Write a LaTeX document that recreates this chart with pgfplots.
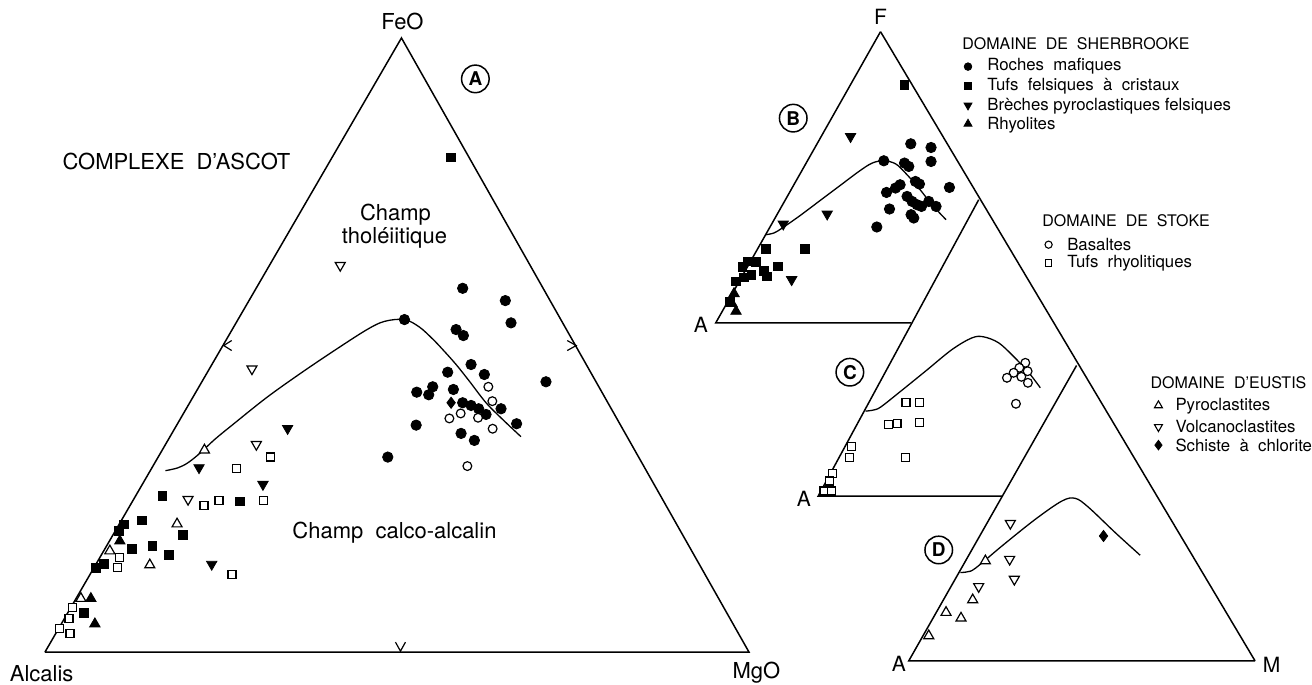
\documentclass[border=0pt]{standalone}
\usepackage{pgfplots}
\pgfplotsset{compat=1.18}
\usepackage{fontspec}
\setmainfont{TeX Gyre Heros}
\tikzset{
  lab/.style={font=\fontsize{11}{13}\selectfont, inner sep=0pt},
  vlab/.style={font=\fontsize{10.5}{12}\selectfont, inner sep=0pt},
  leg/.style={font=\fontsize{8}{9.6}\selectfont, inner sep=0pt, anchor=west},
  legi/.style={font=\fontsize{8.4}{10}\selectfont, inner sep=0pt, anchor=west},
  circ/.style={draw, circle, line width=0.75pt, minimum size=13.8pt, inner sep=0pt, font=\fontsize{9.5}{10}\selectfont\bfseries},
}
\begin{document}
\begin{tikzpicture}
\begin{axis}[
  x=0.5pt, y=0.5pt, y dir=reverse,
  xmin=0, xmax=1312, ymin=0, ymax=685,
  hide axis, clip=false,
]
\path (axis cs:0,0) rectangle (axis cs:1312,685);

% ---------- main triangle (A) ----------
\addplot[black, line width=0.75pt] coordinates {(45,653) (402,38) (750,653) (45,653)};
\addplot[black, line width=0.6pt] coordinates {(232,341) (224,346) (232,351)};
\addplot[black, line width=0.6pt] coordinates {(568,341) (577,346) (568,351)};
\addplot[black, line width=0.6pt] coordinates {(396,643) (401,652) (406,643)};
\addplot[black, line width=0.65pt, smooth, tension=0.55] coordinates {
 (165.7,471.3) (178,468.5) (188,463.5) (200,454) (215,440) (233.3,425) (266.7,398.3)
 (300,374.5) (333.3,352) (366.7,330.5) (385,321.8) (405,320) (420,327.5) (433.3,339.5)
 (443.3,350) (456.7,365) (470,381.7) (486.7,403.3) (503.3,420) (521.7,437.3)};

% ---------- right composite (B, C, D) ----------
\addplot[black, line width=0.75pt] coordinates {(881.7,31.7) (1256.7,661.7)};
\addplot[black, line width=0.75pt] coordinates {(912,323.3) (716.7,323.3) (881.7,31.7)};
\addplot[black, line width=0.75pt] coordinates {(1003.5,496.7) (819.3,496.7) (980,200)};
\addplot[black, line width=0.75pt] coordinates {(1256.7,661.7) (910,661.7) (1078,366)};
% B curve
\addplot[black, line width=0.65pt, smooth, tension=0.55] coordinates {
 (766.7,235) (775,233.3) (783.3,228.3) (800,216.7) (820,201.7) (840,186.7) (860,171.7)
 (873.3,163.3) (885,161) (896.7,164) (906.7,173.3) (920,188.3) (933.3,205) (947.3,220)};
% C curve
\addplot[black, line width=0.65pt, smooth, tension=0.55] coordinates {
 (866.7,411.7) (875,410.5) (882,407.5) (900,393.3) (926.7,371.7) (953.3,350) (973.3,338.3)
 (985,337.3) (1000,343.3) (1015,357) (1030,373) (1041.7,388.3)};
% D curve
\addplot[black, line width=0.65pt, smooth, tension=0.55] coordinates {
 (961.7,573.3) (969,572.5) (976.7,569) (1003.3,546.7) (1036.7,520) (1063.3,501.7)
 (1076.7,499) (1090,508) (1116.7,533.3) (1141.7,556)};

% ---------- data: Domaine de Sherbrooke ----------
% Roches mafiques (filled circles)
\addplot[only marks, mark=*, mark size=2.6pt, black] table {
x y
405 320
463.3 288.7
506 301
511.7 323.3
456.7 330
464 336
471.7 365
448.3 372.7
485 375
546.7 382.3
433.3 387.3
417.3 392.7
429.3 395.3
454 390
463.3 403.3
471.7 406
479.3 409.3
486.7 415
501.7 409.3
416.7 425.7
517.3 424.3
461.7 434
475 441
388.3 457.7
912 144
932.3 147.7
932.3 161.7
885 161
905.7 163.3
910 166.7
916.7 181.7
920.7 184.3
901.3 185
896.7 188.3
887.7 192.7
950.7 187.7
908.3 196.7
913.3 201.7
918.3 205
922.7 206.7
930 201.7
937.3 206.7
890.7 209.3
912.3 215
915 218.3
878 227.3
};
% Tufs felsiques a cristaux (filled squares)
\addplot[only marks, mark=square*, mark size=2.2pt, black] table {
x y
451.7 157.7
162.7 496.7
240 502
142.3 521
124 525
119 531.7
183.3 536
152.7 546.7
131.7 550
169 556
104 565
96.3 569
84 614
905.7 85
766.7 249
806 249.3
779 266.7
748.3 261.7
756.7 262.3
743.3 267.3
765 271
768.3 276.7
752.3 275
745 277.7
736.7 281.7
731 302
};
% Breches pyroclastiques felsiques (filled down triangles)
\addplot[only marks, mark=triangle*, mark size=3pt, black, mark options={rotate=180}] table {
x y
288 429
199.3 468.3
263.3 485
212 565
851.7 136.7
828.3 214.3
784.3 224.3
792.7 280
};
% Rhyolites (filled up triangles)
\addplot[only marks, mark=triangle*, mark size=3pt, black] table {
x y
120 541.7
91 599.3
95 624.7
735 294
733 304
737 311.7
};

% ---------- Domaine de Stoke ----------
% Basaltes (open circles)
\addplot[only marks, mark=*, mark size=2.2pt, mark options={fill=white, draw=black, line width=0.6pt}] table {
x y
489 387.3
493 401.7
461.3 414
450 419
478.7 418.3
493.3 429.3
468 466.7
1026.7 363.3
1020.7 368.3
1029 371.7
1015 373.3
1022.7 377.3
1008.3 378.3
1029.3 383.3
1017.3 404.3
};
% Tufs rhyolitiques (open squares)
\addplot[only marks, mark=square*, mark size=2pt, mark options={fill=white, draw=black, line width=0.6pt}] table {
x y
270.7 457.7
237 469.3
219.3 501
204.3 506
264 501
232.3 575
120 558.3
117.3 568.3
72.7 608.7
69 619.3
59.3 629.3
70 634
907.3 403.3
920.7 403.3
889.3 425
898.3 424.3
920.7 423.3
852.7 447.3
851 458
906.7 458.3
833.3 474
831 481.7
832.3 491.7
825 491.7
};

% ---------- Domaine d'Eustis ----------
% Pyroclastites (open up triangles)
\addplot[only marks, mark=triangle*, mark size=2.9pt, mark options={fill=white, draw=black, line width=0.6pt}] table {
x y
204.7 450.7
177.3 524.7
150 565.7
110 551.7
81 599.3
986.7 561.7
974 600.7
947.3 613.3
962.3 619
930 636.7
};
% Volcanoclastites (open down triangles)
\addplot[only marks, mark=triangle*, mark size=2.9pt, mark options={fill=white, draw=black, line width=0.6pt, rotate=180}] table {
x y
340.7 265.7
252.3 369.3
256.7 445
188.3 500
1011.7 524
1011 560
1015.7 580
980 587.3
};
% Schiste a chlorite (filled diamond)
\addplot[only marks, mark=diamond*, mark size=2.8pt, black] table {
x y
451.7 403.3
1105 536.7
};

% ---------- legend markers ----------
\addplot[only marks, mark=*, mark size=1.9pt, black] coordinates {(969.3,66.7)};
\addplot[only marks, mark=square*, mark size=1.7pt, black] coordinates {(969.3,86)};
\addplot[only marks, mark=triangle*, mark size=2.3pt, black, mark options={rotate=180}] coordinates {(969.3,105.5)};
\addplot[only marks, mark=triangle*, mark size=2.3pt, black] coordinates {(969.3,124)};
\addplot[only marks, mark=*, mark size=1.8pt, mark options={fill=white, draw=black, line width=0.55pt}] coordinates {(1050,245)};
\addplot[only marks, mark=square*, mark size=1.6pt, mark options={fill=white, draw=black, line width=0.55pt}] coordinates {(1050,263.3)};
\addplot[only marks, mark=triangle*, mark size=2.3pt, mark options={fill=white, draw=black, line width=0.55pt}] coordinates {(1160,406)};
\addplot[only marks, mark=triangle*, mark size=2.3pt, mark options={fill=white, draw=black, line width=0.55pt, rotate=180}] coordinates {(1160,427.5)};
\addplot[only marks, mark=diamond*, mark size=2.4pt, black] coordinates {(1160,445.7)};

% ---------- texts ----------
\node[lab] at (axis cs:403,22) {FeO};
\node[lab] at (axis cs:41.7,675) {Alcalis};
\node[lab] at (axis cs:757.5,674) {MgO};
\node[lab] at (axis cs:176.7,162) {COMPLEXE\ \ D'ASCOT};
\node[lab] at (axis cs:396,215) {Champ};
\node[lab] at (axis cs:395,238.3) {tholéiitique};
\node[lab] at (axis cs:395,533.3) {Champ\ \ calco-alcalin};
\node[circ] at (axis cs:476,79) {A};

\node[vlab] at (axis cs:881.7,17) {F};
\node[vlab] at (axis cs:701.7,325) {A};
\node[vlab] at (axis cs:805,499.3) {A};
\node[vlab] at (axis cs:900,665) {A};
\node[vlab] at (axis cs:1273.3,666) {M};
\node[circ] at (axis cs:794.3,118.3) {B};
\node[circ] at (axis cs:851,372.7) {C};
\node[circ] at (axis cs:940,550.7) {D};

\node[leg] at (axis cs:963.3,43.3) {DOMAINE\ \ DE\ \ SHERBROOKE};
\node[legi] at (axis cs:988.3,66.7) {Roches\ \ mafiques};
\node[legi] at (axis cs:988.3,86) {Tufs\ \ felsiques\ \ à\ \ cristaux};
\node[legi] at (axis cs:988.3,106) {Brèches pyroclastiques felsiques};
\node[legi] at (axis cs:988.3,125) {Rhyolites};

\node[leg] at (axis cs:1043.3,220.7) {DOMAINE\ \ DE\ \ STOKE};
\node[legi] at (axis cs:1068.3,245) {Basaltes};
\node[legi] at (axis cs:1068.3,263.3) {Tufs\ \ rhyolitiques};

\node[leg] at (axis cs:1151.7,383.3) {DOMAINE\ \ D'EUSTIS};
\node[legi] at (axis cs:1176.7,406.7) {Pyroclastites};
\node[legi] at (axis cs:1176.7,426.7) {Volcanoclastites};
\node[legi] at (axis cs:1176.7,445.7) {Schiste\ \ à\ \ chlorite};
\end{axis}
\end{tikzpicture}
\end{document}
